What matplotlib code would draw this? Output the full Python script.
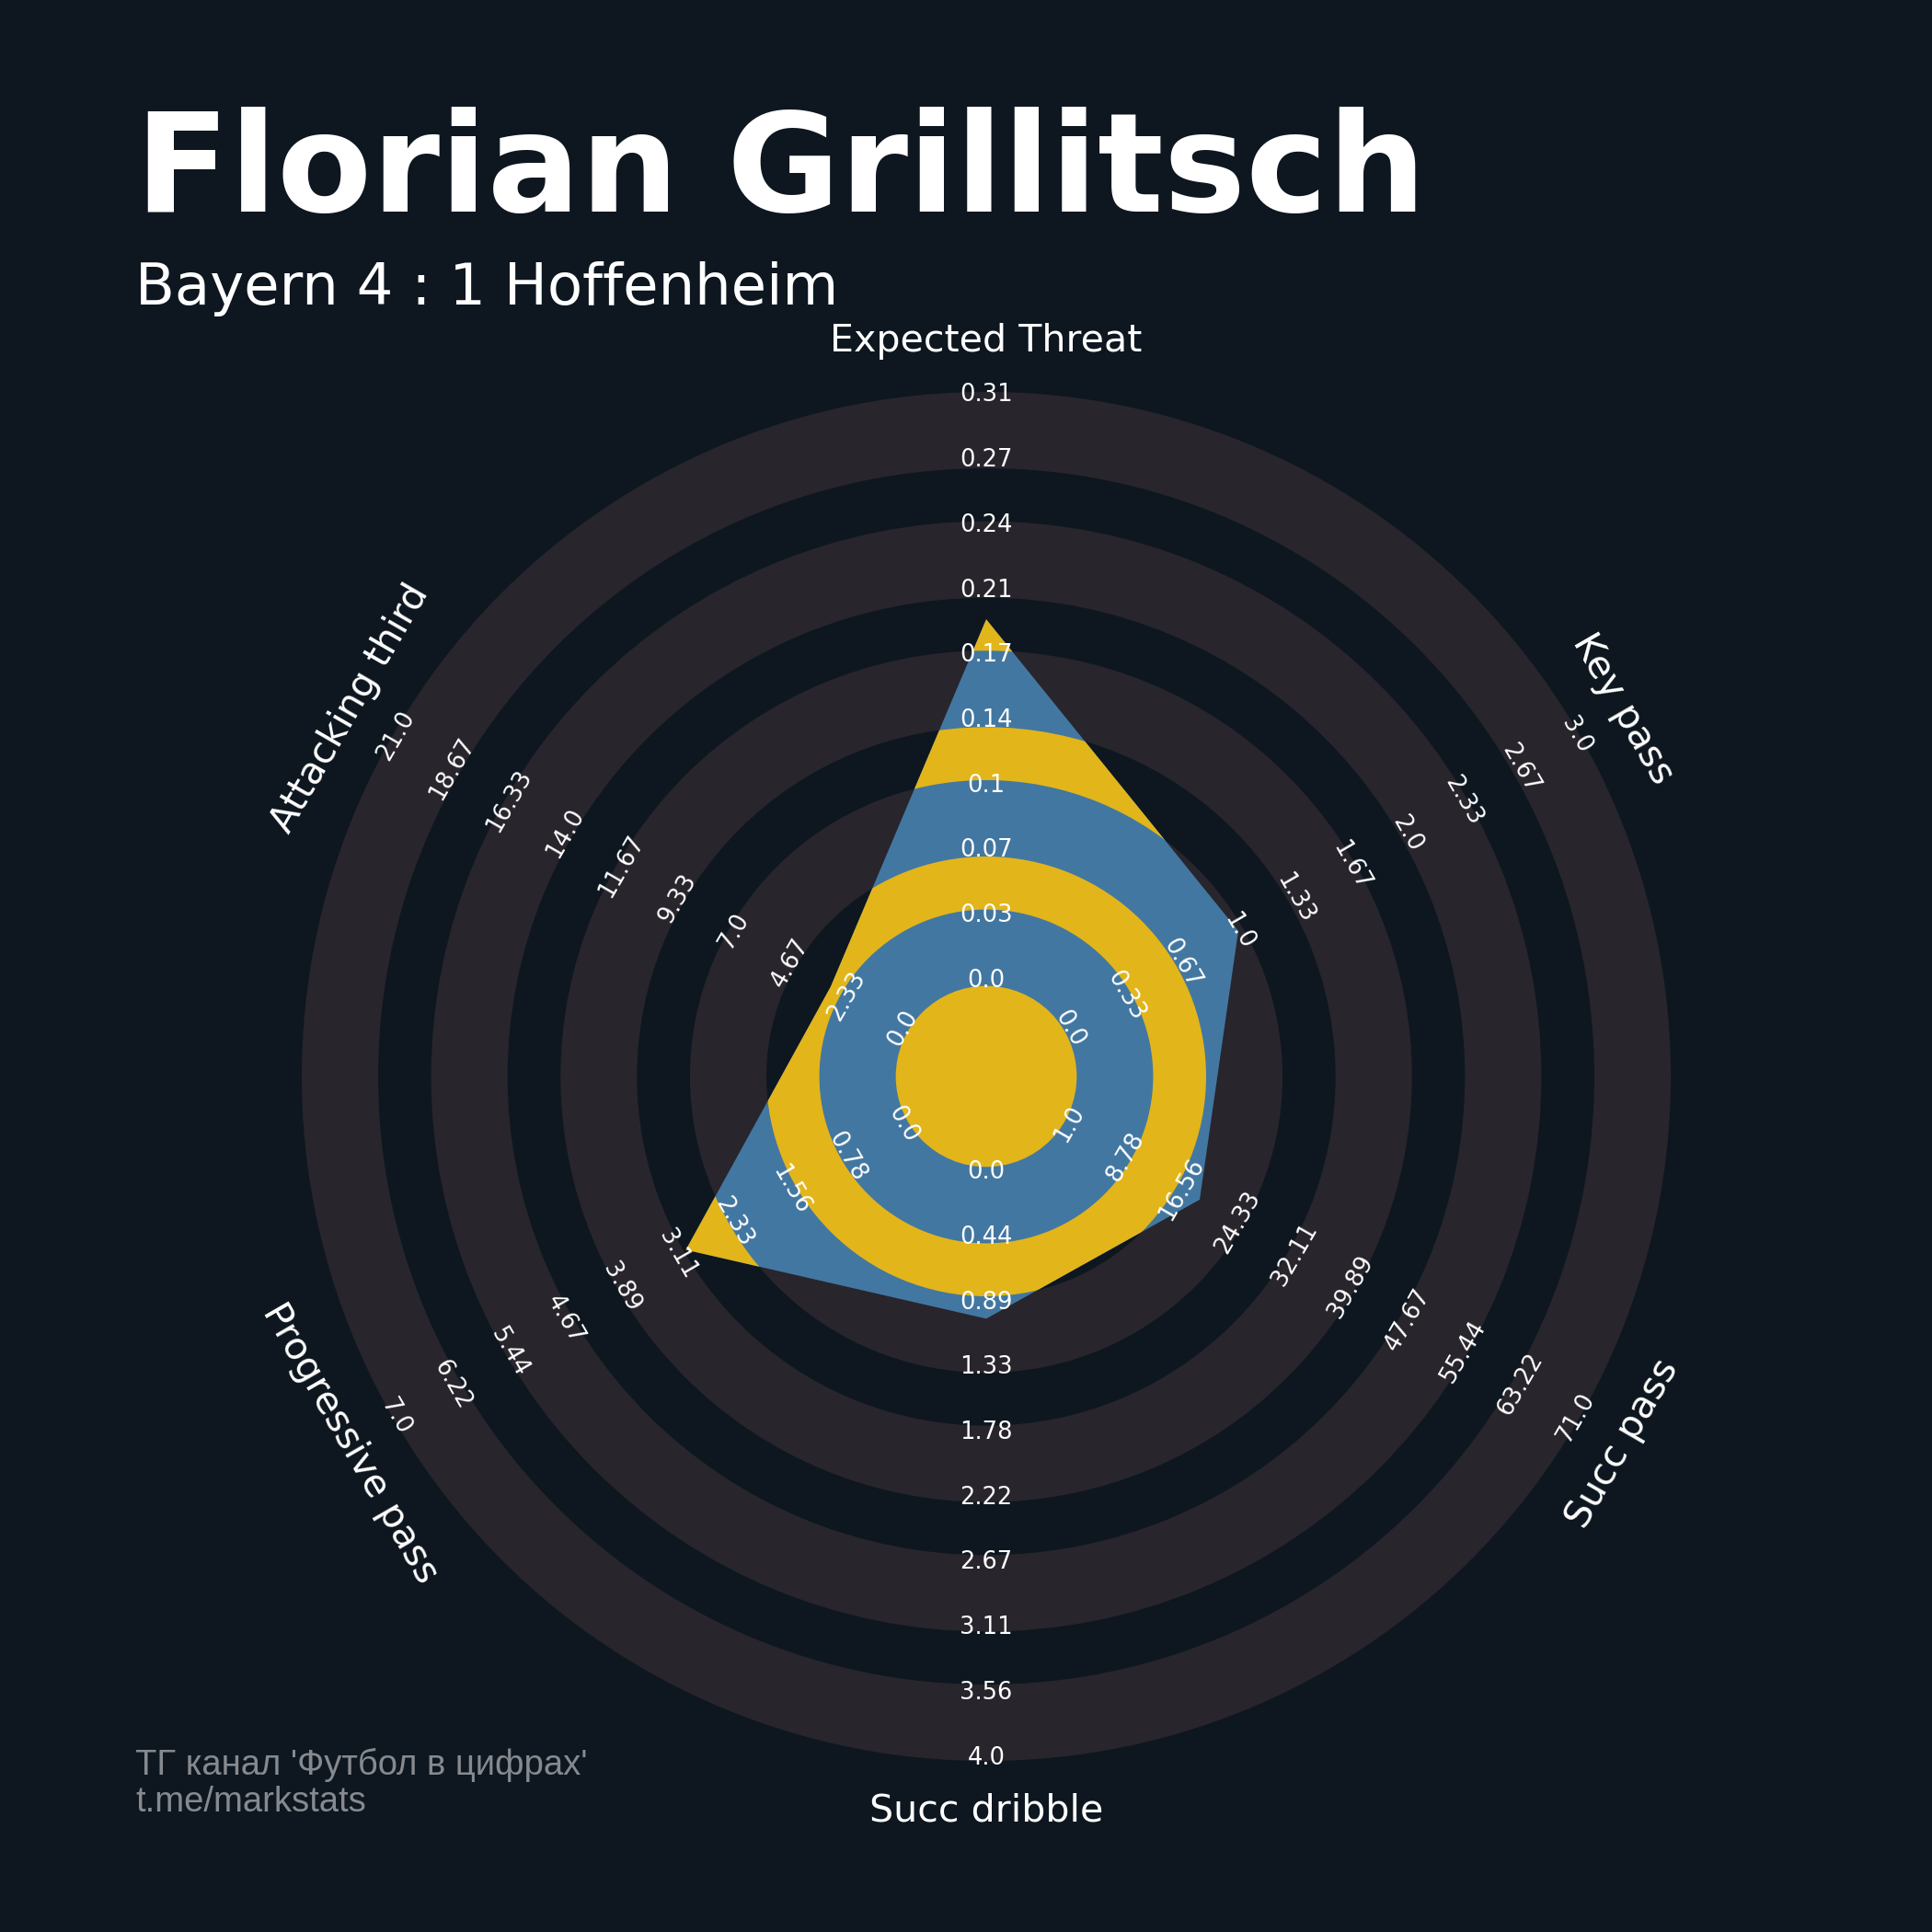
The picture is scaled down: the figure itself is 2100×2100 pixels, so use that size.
import numpy as np
import matplotlib.pyplot as plt
from matplotlib.patches import Circle, Wedge, Polygon

# данные
params = ['Expected Threat', 'Key pass', 'Succ pass', 'Succ dribble',
          'Progressive pass', 'Attacking third']
low = [0, 0, 1, 0, 0, 0]
high = [0.308, 3, 71, 4, 7, 21]
values = [0.19, 1, 19, 1, 3, 3]

player = 'Florian Grillitsch'
match = 'Bayern 4 : 1 Hoffenheim'
credit = ["ТГ канал 'Футбол в цифрах'", 't.me/markstats']

BG = '#0e1720'
RING = '#28252c'
RADAR = '#4277a1'
RADAR_RING = '#e2b51b'

# геометрия радара (в долях внешнего радиуса)
center_r = 0.132
ring_w = 0.1115
gap_w = 0.0773
n_rings = 5
r_min, r_max = 0.14, 0.994
n_labels = 10

fig = plt.figure(figsize=(21, 21), dpi=100, facecolor=BG)
ax = fig.add_axes([0, 0, 1, 1])
ax.set_facecolor(BG)
cx, cy, R = 1072, 1170, 745  # центр и радиус в пикселях
ax.set_xlim(-cx / R, (2100 - cx) / R)
ax.set_ylim(-(2100 - cy) / R, cy / R)
ax.axis('off')

# серые кольца
for k in range(n_rings):
    inner = center_r + k * (ring_w + gap_w)
    ax.add_patch(Wedge((0, 0), inner + ring_w, 0, 360, width=ring_w,
                       fc=RING, ec='none', zorder=1))

n = len(params)
theta = 360 * np.arange(n) / n          # по часовой от верха
ang = np.deg2rad(90 - theta)
frac = (np.array(values) - np.array(low)) / (np.array(high) - np.array(low))
rad = r_min + frac * (r_max - r_min)
poly = Polygon(np.column_stack([rad * np.cos(ang), rad * np.sin(ang)]),
               closed=True, fc=RADAR, ec='none', zorder=2)
ax.add_patch(poly)

# жёлтые кольца внутри радара
yellow = [Circle((0, 0), center_r, fc=RADAR_RING, ec='none', zorder=3)]
for k in range(n_rings - 1):
    outer = center_r + ring_w + k * (ring_w + gap_w) + gap_w
    yellow.append(Wedge((0, 0), outer, 0, 360, width=gap_w,
                        fc=RADAR_RING, ec='none', zorder=3))
for p in yellow:
    ax.add_patch(p)
    p.set_clip_path(poly)

# подписи
for i in range(n):
    rot = -theta[i]
    if 90 < theta[i] < 270:
        rot += 180
    steps = np.linspace(low[i], high[i], n_labels)
    radii = np.linspace(r_min, r_max, n_labels)
    for v, r in zip(steps, radii):
        ax.text(r * np.cos(ang[i]), r * np.sin(ang[i]), str(round(float(v), 2)),
                rotation=rot, ha='center', va='center', fontsize=18.5,
                color='white', zorder=5)
    rl = 1.072
    ax.text(rl * np.cos(ang[i]), rl * np.sin(ang[i]), params[i],
            rotation=rot, ha='center', va='center', fontsize=29.6,
            color='white', zorder=5)

fig.text(147 / 2100, 1 - 230 / 2100, player, fontsize=108, fontweight='bold',
         color='white', va='baseline')
fig.text(147 / 2100, 1 - 331 / 2100, match, fontsize=45, color='white',
         va='baseline')
fig.text(147 / 2100, 1 - 1929 / 2100, credit[0], fontsize=27.5,
         family='Liberation Sans', color='#868a8f', va='baseline')
fig.text(147 / 2100, 1 - 1969 / 2100, credit[1], fontsize=27.5,
         family='Liberation Sans', color='#868a8f', va='baseline')

fig.savefig('out.png', dpi=100, facecolor=BG)
